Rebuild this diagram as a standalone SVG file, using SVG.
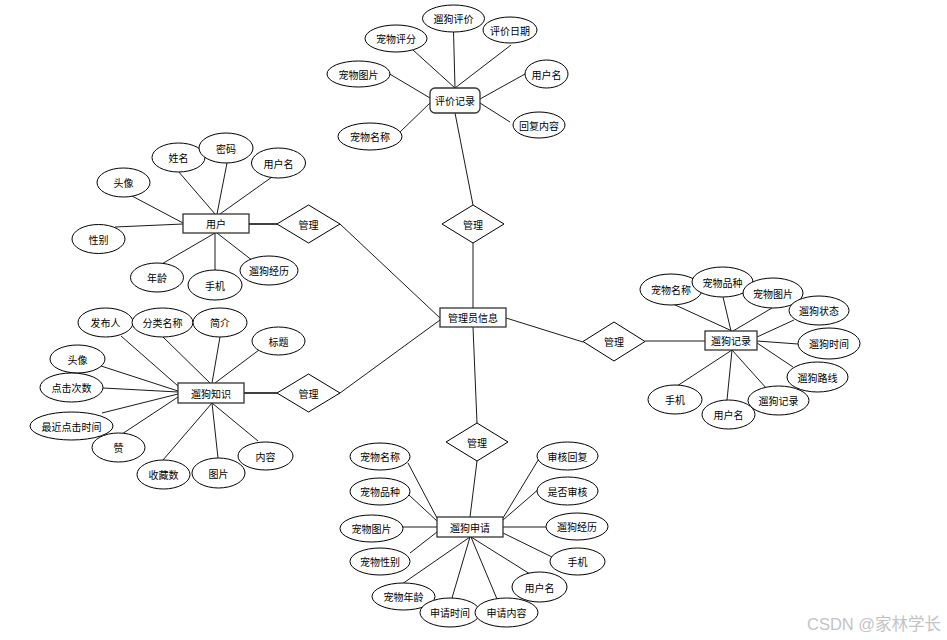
<svg xmlns="http://www.w3.org/2000/svg" width="947" height="640" viewBox="0 0 947 640">
<style>
text{font-family:"Noto Sans CJK SC","Liberation Sans",sans-serif;font-size:10px;fill:#000;text-anchor:middle;dominant-baseline:central}
ellipse,polygon{fill:#fff;stroke:#000;stroke-width:1}
rect{fill:#fff;stroke:#333;stroke-width:1.3}
#connectors line{stroke:#000;stroke-width:0.9}
.wm{font-family:"Liberation Sans","Noto Sans CJK SC",sans-serif;font-size:16.5px;fill:#c4c4c4;text-anchor:start}
</style>
<rect x="0" y="0" width="947" height="640" style="fill:#fff;stroke:none"/>
<g id="connectors">
<line x1="455" y1="88" x2="453.5" y2="31"/>
<line x1="455" y1="88" x2="413" y2="50"/>
<line x1="455" y1="88" x2="511" y2="45"/>
<line x1="430" y1="98" x2="388" y2="73"/>
<line x1="430" y1="103" x2="400" y2="132"/>
<line x1="480" y1="99" x2="525" y2="74"/>
<line x1="480" y1="103" x2="510" y2="122"/>
<line x1="455" y1="113" x2="473" y2="205"/>
<line x1="473" y1="243" x2="473" y2="308"/>
<line x1="340" y1="224" x2="440" y2="318"/>
<line x1="340" y1="393" x2="440" y2="320"/>
<line x1="506" y1="318" x2="583" y2="342"/>
<line x1="473" y1="327" x2="477" y2="423"/>
<line x1="249" y1="224" x2="277" y2="224" style="stroke-width:1.5"/>
<line x1="215" y1="214" x2="178" y2="171"/>
<line x1="217" y1="214" x2="227" y2="163"/>
<line x1="220" y1="214" x2="272" y2="177"/>
<line x1="183" y1="223" x2="132" y2="196"/>
<line x1="183" y1="224" x2="115" y2="227"/>
<line x1="215" y1="233" x2="160" y2="265"/>
<line x1="215" y1="233" x2="215" y2="270"/>
<line x1="217" y1="233" x2="253" y2="261"/>
<line x1="244" y1="393" x2="277" y2="393" style="stroke-width:1.5"/>
<line x1="178" y1="386" x2="121" y2="336"/>
<line x1="210" y1="383" x2="163" y2="337"/>
<line x1="212" y1="383" x2="220" y2="337"/>
<line x1="215" y1="383" x2="259" y2="350"/>
<line x1="178" y1="391" x2="98" y2="365"/>
<line x1="178" y1="392" x2="103" y2="388"/>
<line x1="178" y1="394" x2="102" y2="413"/>
<line x1="178" y1="397" x2="122" y2="434"/>
<line x1="212" y1="403" x2="163" y2="460"/>
<line x1="212" y1="403" x2="218" y2="458"/>
<line x1="212" y1="403" x2="258" y2="441"/>
<line x1="645" y1="341" x2="705" y2="341"/>
<line x1="732" y1="331" x2="673" y2="304"/>
<line x1="731" y1="331" x2="723" y2="297"/>
<line x1="733" y1="331" x2="772" y2="308"/>
<line x1="757" y1="337" x2="794" y2="320"/>
<line x1="757" y1="341" x2="798" y2="344"/>
<line x1="757" y1="343" x2="793" y2="367"/>
<line x1="732" y1="350" x2="767" y2="389"/>
<line x1="732" y1="350" x2="727" y2="400"/>
<line x1="732" y1="350" x2="677" y2="386"/>
<line x1="477" y1="461" x2="470" y2="517"/>
<line x1="437" y1="518" x2="408" y2="463"/>
<line x1="437" y1="521" x2="409" y2="495"/>
<line x1="437" y1="527" x2="403" y2="527"/>
<line x1="437" y1="532" x2="410" y2="553"/>
<line x1="470" y1="537" x2="402" y2="584"/>
<line x1="470" y1="537" x2="452" y2="598"/>
<line x1="471" y1="537" x2="497" y2="599"/>
<line x1="471" y1="537" x2="530" y2="574"/>
<line x1="503" y1="533" x2="552" y2="557"/>
<line x1="503" y1="527" x2="546" y2="527"/>
<line x1="503" y1="520" x2="540" y2="488"/>
<line x1="503" y1="518" x2="540" y2="457"/>
</g>

<g id="eval-record"><rect x="430" y="88" width="50" height="25" rx="5"/><text x="455" y="100.5">评价记录</text></g>
<g id="eval-walk"><ellipse cx="453.5" cy="18.5" rx="31" ry="13.5"/><text x="453.5" y="18.5">遛狗评价</text></g>
<g id="eval-score"><ellipse cx="396" cy="38.5" rx="31" ry="13.5"/><text x="396" y="38.5">宠物评分</text></g>
<g id="eval-date"><ellipse cx="510" cy="30" rx="27" ry="13"/><text x="510" y="30">评价日期</text></g>
<g id="eval-pic"><ellipse cx="358.5" cy="74" rx="31.5" ry="13"/><text x="358.5" y="74">宠物图片</text></g>
<g id="eval-user"><ellipse cx="546.5" cy="74" rx="21.5" ry="14"/><text x="546.5" y="74">用户名</text></g>
<g id="eval-reply"><ellipse cx="539" cy="125" rx="26" ry="13"/><text x="539" y="125">回复内容</text></g>
<g id="eval-petname"><ellipse cx="370" cy="136.5" rx="32" ry="13.5"/><text x="370" y="136.5">宠物名称</text></g>

<g id="rel-top"><polygon points="473,205 504,224 473,243 442,224"/><text x="473" y="224">管理</text></g>
<g id="rel-user"><polygon points="308.5,205 340,224 308.5,243 277,224"/><text x="308.5" y="224">管理</text></g>
<g id="rel-know"><polygon points="308.5,374 340,393 308.5,412 277,393"/><text x="308.5" y="393">管理</text></g>
<g id="rel-walk"><polygon points="614,322 645,341.5 614,361 583,341.5"/><text x="614" y="341.5">管理</text></g>
<g id="rel-apply"><polygon points="477,423 508,442 477,461 446,442"/><text x="477" y="442">管理</text></g>

<g id="admin"><rect x="440" y="308" width="66" height="19"/><text x="473" y="317.5">管理员信息</text></g>

<g id="user"><rect x="183" y="214" width="66" height="19"/><text x="216" y="223.5">用户</text></g>
<g id="u-name"><ellipse cx="178.5" cy="157.5" rx="26.5" ry="14.5"/><text x="178.5" y="157.5">姓名</text></g>
<g id="u-pwd"><ellipse cx="226" cy="148" rx="27" ry="15"/><text x="226" y="148">密码</text></g>
<g id="u-user"><ellipse cx="278.5" cy="163" rx="27" ry="15"/><text x="278.5" y="163">用户名</text></g>
<g id="u-avatar"><ellipse cx="123.5" cy="182.5" rx="26.5" ry="14.5"/><text x="123.5" y="182.5">头像</text></g>
<g id="u-gender"><ellipse cx="98.5" cy="239" rx="26.5" ry="14.5"/><text x="98.5" y="239">性别</text></g>
<g id="u-age"><ellipse cx="157" cy="277.5" rx="26.5" ry="14.5"/><text x="157" y="277.5">年龄</text></g>
<g id="u-phone"><ellipse cx="215" cy="285" rx="27" ry="15"/><text x="215" y="285">手机</text></g>
<g id="u-exp"><ellipse cx="269" cy="270.5" rx="29" ry="14.5"/><text x="269" y="270.5">遛狗经历</text></g>

<g id="knowledge"><rect x="178" y="383" width="66" height="20"/><text x="211" y="393">遛狗知识</text></g>
<g id="k-pub"><ellipse cx="105.5" cy="322.5" rx="27.5" ry="14.5"/><text x="105.5" y="322.5">发布人</text></g>
<g id="k-cat"><ellipse cx="162.5" cy="322.5" rx="30.5" ry="14.5"/><text x="162.5" y="322.5">分类名称</text></g>
<g id="k-intro"><ellipse cx="220" cy="322.5" rx="27" ry="14.5"/><text x="220" y="322.5">简介</text></g>
<g id="k-title"><ellipse cx="278.5" cy="341" rx="26.5" ry="14"/><text x="278.5" y="341">标题</text></g>
<g id="k-avatar"><ellipse cx="77.5" cy="359" rx="27.5" ry="14"/><text x="77.5" y="359">头像</text></g>
<g id="k-clicks"><ellipse cx="71.5" cy="387.5" rx="31.5" ry="14.5"/><text x="71.5" y="387.5">点击次数</text></g>
<g id="k-last"><ellipse cx="71.5" cy="426" rx="41.5" ry="14"/><text x="71.5" y="426">最近点击时间</text></g>
<g id="k-like"><ellipse cx="118.5" cy="447.5" rx="26.5" ry="14.5"/><text x="118.5" y="447.5">赞</text></g>
<g id="k-fav"><ellipse cx="163.5" cy="474.5" rx="26.5" ry="14.5"/><text x="163.5" y="474.5">收藏数</text></g>
<g id="k-pic"><ellipse cx="218.5" cy="473" rx="26.5" ry="15"/><text x="218.5" y="473">图片</text></g>
<g id="k-content"><ellipse cx="265.5" cy="456" rx="27.5" ry="14"/><text x="265.5" y="456">内容</text></g>

<g id="walk-record"><rect x="705" y="331" width="52" height="19"/><text x="731" y="340.5">遛狗记录</text></g>
<g id="w-petname"><ellipse cx="671" cy="289.5" rx="31" ry="15.5"/><text x="671" y="289.5">宠物名称</text></g>
<g id="w-breed"><ellipse cx="722.5" cy="282" rx="30.5" ry="15"/><text x="722.5" y="282">宠物品种</text></g>
<g id="w-pic"><ellipse cx="773" cy="293" rx="30" ry="15"/><text x="773" y="293">宠物图片</text></g>
<g id="w-status"><ellipse cx="819" cy="310.5" rx="30" ry="14.5"/><text x="819" y="310.5">遛狗状态</text></g>
<g id="w-time"><ellipse cx="829" cy="343.5" rx="31" ry="15.5"/><text x="829" y="343.5">遛狗时间</text></g>
<g id="w-route"><ellipse cx="817.5" cy="377" rx="30.5" ry="15"/><text x="817.5" y="377">遛狗路线</text></g>
<g id="w-rec"><ellipse cx="778.5" cy="400.5" rx="30.5" ry="14.5"/><text x="778.5" y="400.5">遛狗记录</text></g>
<g id="w-user"><ellipse cx="728.5" cy="414.5" rx="26.5" ry="14.5"/><text x="728.5" y="414.5">用户名</text></g>
<g id="w-phone"><ellipse cx="675" cy="399.5" rx="27" ry="14.5"/><text x="675" y="399.5">手机</text></g>

<g id="apply"><rect x="437" y="517" width="66" height="20"/><text x="470" y="527">遛狗申请</text></g>
<g id="a-petname"><ellipse cx="380" cy="456.5" rx="30" ry="13.5"/><text x="380" y="456.5">宠物名称</text></g>
<g id="a-breed"><ellipse cx="380" cy="491.5" rx="30" ry="13.5"/><text x="380" y="491.5">宠物品种</text></g>
<g id="a-pic"><ellipse cx="371.5" cy="528.5" rx="31.5" ry="13.5"/><text x="371.5" y="528.5">宠物图片</text></g>
<g id="a-gender"><ellipse cx="380" cy="561.5" rx="30" ry="13.5"/><text x="380" y="561.5">宠物性别</text></g>
<g id="a-age"><ellipse cx="403.5" cy="596.5" rx="31.5" ry="13.5"/><text x="403.5" y="596.5">宠物年龄</text></g>
<g id="a-time"><ellipse cx="450" cy="612.5" rx="30" ry="14.5"/><text x="450" y="612.5">申请时间</text></g>
<g id="a-content"><ellipse cx="506.5" cy="612.5" rx="31.5" ry="14.5"/><text x="506.5" y="612.5">申请内容</text></g>
<g id="a-user"><ellipse cx="539.5" cy="587" rx="27.5" ry="15"/><text x="539.5" y="587">用户名</text></g>
<g id="a-phone"><ellipse cx="577.5" cy="561.5" rx="27.5" ry="13.5"/><text x="577.5" y="561.5">手机</text></g>
<g id="a-exp"><ellipse cx="577" cy="526.5" rx="31" ry="13.5"/><text x="577" y="526.5">遛狗经历</text></g>
<g id="a-audited"><ellipse cx="567.5" cy="491" rx="30.5" ry="14"/><text x="567.5" y="491">是否审核</text></g>
<g id="a-reply"><ellipse cx="567.5" cy="456" rx="30.5" ry="14"/><text x="567.5" y="456">审核回复</text></g>

<text class="wm" x="807" y="630" style="dominant-baseline:auto">CSDN @家林学长</text>
</svg>
